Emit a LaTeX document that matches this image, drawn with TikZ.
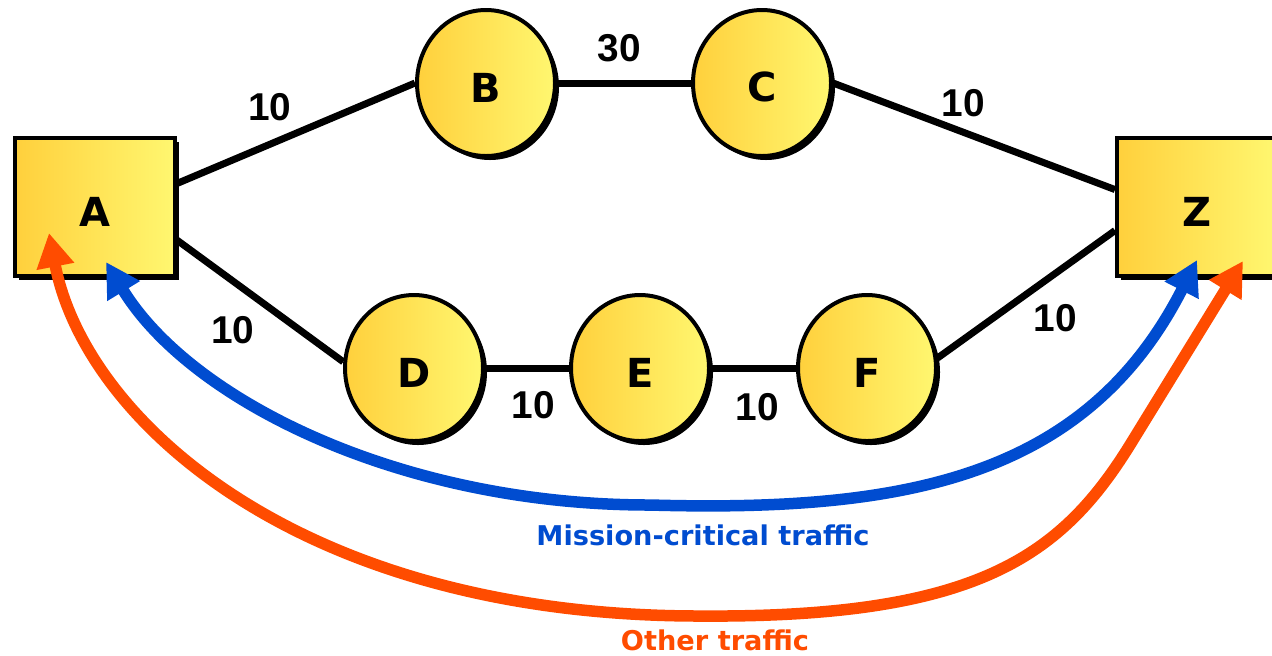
\documentclass[tikz,border=0pt]{standalone}
\usepackage{fontspec}
\setmainfont{DejaVu Sans}
\newfontfamily\numfont{Liberation Sans}
\usetikzlibrary{shadows,arrows.meta,calc,shapes.geometric}
\definecolor{gl}{RGB}{255,208,60}
\definecolor{gr}{RGB}{255,247,112}
\definecolor{mcblue}{RGB}{0,76,208}
\definecolor{otorange}{RGB}{255,76,0}
\tikzset{
  router/.style={draw=black, line width=2pt, left color=gl, right color=gr,
    drop shadow={shadow xshift=2pt, shadow yshift=-2pt, fill=black, opacity=1},
    inner sep=0pt, text height=19pt, font=\bfseries\fontsize{20}{24}\selectfont},
  boxnode/.style={router, rectangle, minimum width=80pt, minimum height=69pt},
  circnode/.style={router, ellipse, minimum width=69pt, minimum height=73pt},
  link/.style={line width=3.5pt},
  cost/.style={font=\numfont\bfseries\fontsize{19.4}{22}\selectfont, inner sep=0pt},
  flow/.style={line width=5.75pt, line join=round, {Triangle[length=17pt,width=18pt]}-{Triangle[length=17pt,width=18pt]}},
  flowlabel/.style={font=\bfseries\fontsize{13.6}{16}\selectfont, inner sep=0pt}
}
\begin{document}
\begin{tikzpicture}[x=0.5pt,y=-0.5pt]
\fill[white] (0,0) rectangle (1272,655);
\useasboundingbox (0,0) rectangle (1272,655);
% nodes
\node[boxnode] (A) at (95,207) {A};
\node[boxnode] (Z) at (1197,207) {Z};
\node[circnode] (B) at (486,83) {B};
\node[circnode] (C) at (762,83) {C};
\node[circnode] (D) at (414,368) {D};
\node[circnode] (E) at (640,368) {E};
\node[circnode] (F) at (867,368) {F};
% links
\draw[link] (A.16) -- (B.west);
\draw[link] (A.-22) -- (D.175);
\draw[link] (B.east) -- (C.west);
\draw[link] (C.east) -- (Z.168);
\draw[link] (D.east) -- (E.west);
\draw[link] (E.east) -- (F.west);
\draw[link] (F.8) -- (Z.196);
% costs
\node[cost] (cAB) at (270,107) {10};
\node[cost] (cBC) at (619,48) {30};
\node[cost] (cCZ) at (963,103) {10};
\node[cost] (cAD) at (233,330) {10};
\node[cost] (cDE) at (533,405) {10};
\node[cost] (cEF) at (757,407) {10};
\node[cost] (cFZ) at (1055,318) {10};
% traffic flows
\coordinate (bA) at (106,262);
\coordinate (bZ) at (1197,260);
\coordinate (oA) at (49,233);
\coordinate (oZ) at (1243,261);
\draw[flow, mcblue] (bA) .. controls (190,400) and (400,505) .. (650,505)
  .. controls (900,512) and (1085,480) .. (bZ);
\draw[flow, otorange] (oA) .. controls (85,420) and (300,616) .. (700,616)
  .. controls (980,618) and (1063,555) .. (1133,440) -- (oZ);
\node[flowlabel, text=mcblue] (lmc) at (703,535) {Mission-critical traffic};
\node[flowlabel, text=otorange] (lot) at (715,640) {Other traffic};
\end{tikzpicture}
\end{document}
